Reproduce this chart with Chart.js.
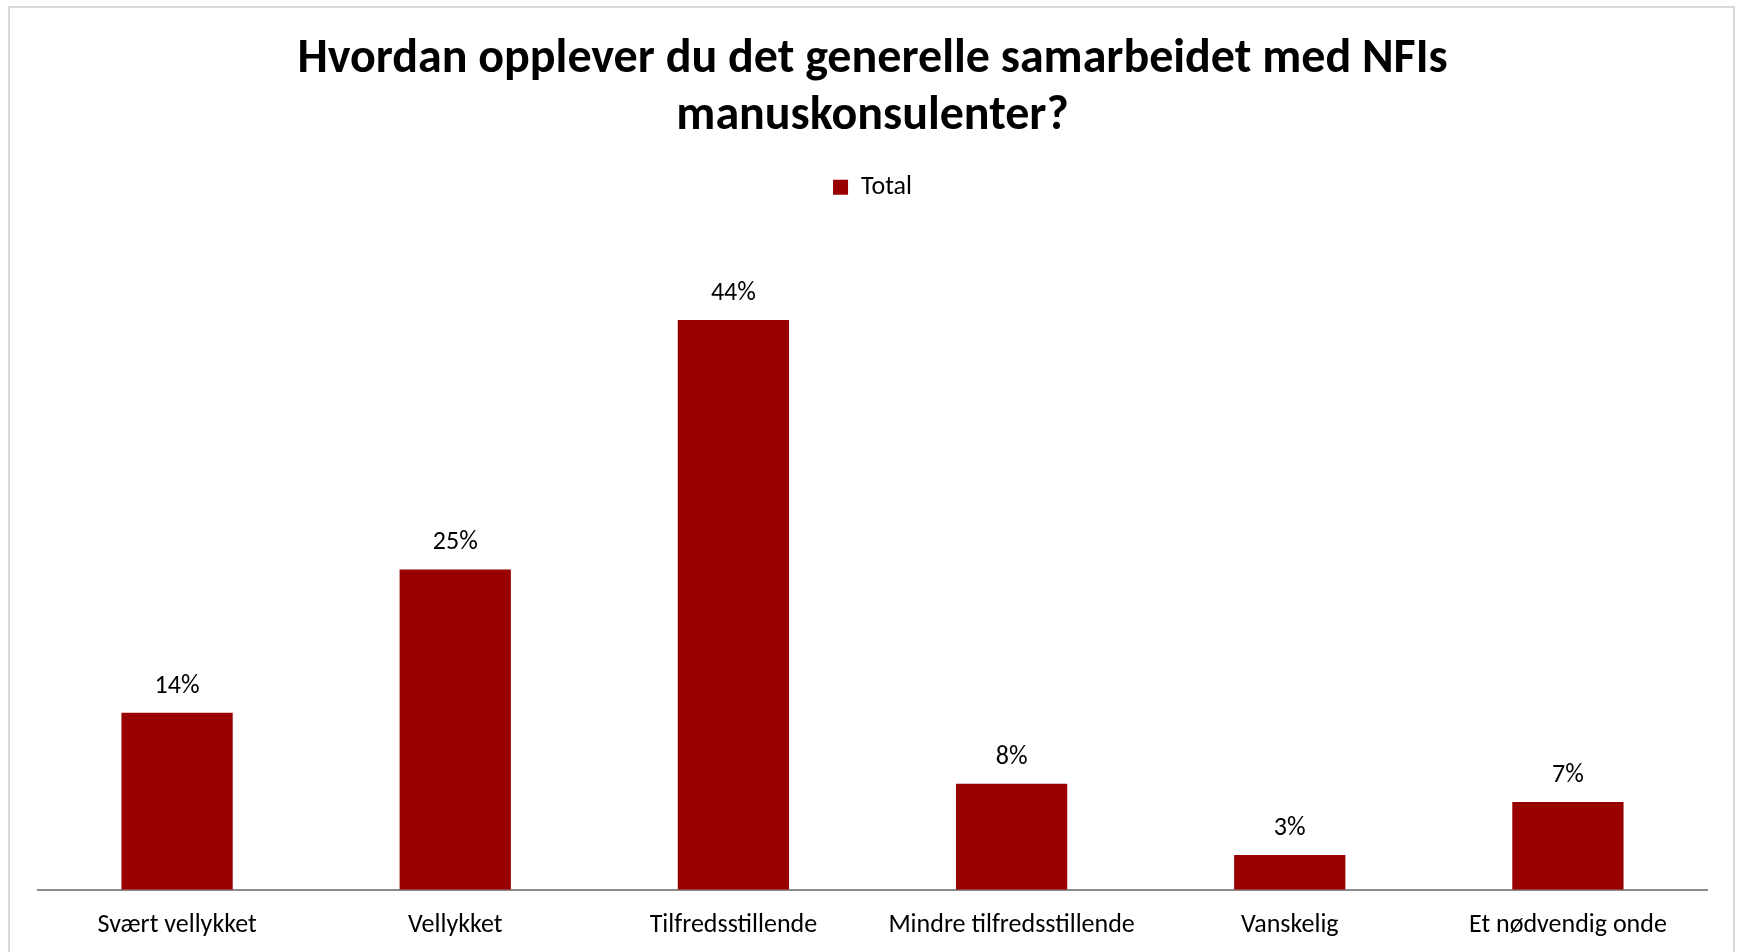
<!DOCTYPE html>
<html>
<head>
<meta charset="utf-8">
<title>NFI manuskonsulenter</title>
<script src="https://cdn.jsdelivr.net/npm/chart.js@4/dist/chart.umd.min.js"></script>
<style>
  html, body { margin: 0; padding: 0; background: #fff; overflow: hidden; }
  #wrap { position: relative; width: 1741px; height: 952px; }
  #frame { position: absolute; left: 8px; top: 6px; width: 1727px; height: 960px; border: 2px solid #d9d9d9; box-sizing: border-box; }
  #chart { position: absolute; left: 0; top: 0; }
</style>
</head>
<body>
<div id="wrap">
  <div id="frame"></div>
  <canvas id="chart" width="1741" height="952"></canvas>
</div>
<script>
// answers to "Hvordan opplever du det generelle samarbeidet med NFIs manuskonsulenter?"
const categories = ['Svært vellykket', 'Vellykket', 'Tilfredsstillende', 'Mindre tilfredsstillende', 'Vanskelig', 'Et nødvendig onde'];
const totalPct = [13.7, 24.8, 44.1, 8.2, 2.7, 6.8];
const seriesName = 'Total';
const titleLines = ['Hvordan opplever du det generelle samarbeidet med NFIs', 'manuskonsulenter?'];

const FONT = 'Carlito, Calibri, Lato, sans-serif';
const BAR = '#990000';
const AXIS = '#8c8c8c';

Chart.defaults.font.family = FONT;
Chart.defaults.color = '#000';

// value labels above each bar, rounded like the source ("14%")
const barLabels = {
  id: 'barLabels',
  afterDatasetsDraw(chart) {
    const { ctx } = chart;
    const meta = chart.getDatasetMeta(0);
    ctx.save();
    ctx.font = '26px ' + FONT;
    ctx.fillStyle = '#000';
    ctx.textAlign = 'center';
    ctx.textBaseline = 'alphabetic';
    meta.data.forEach((bar, i) => {
      const v = chart.data.datasets[0].data[i];
      ctx.fillText(Math.round(v) + '%', bar.x, bar.y - 20);
    });
    ctx.restore();
  },
};

new Chart(document.getElementById('chart'), {
  type: 'bar',
  data: {
    labels: categories,
    datasets: [{
      label: seriesName,
      data: totalPct,
      backgroundColor: BAR,
      borderWidth: 0,
      categoryPercentage: 1,
      barPercentage: 0.4,
    }],
  },
  options: {
    responsive: false,
    animation: false,
    layout: { padding: { left: 38, right: 34, top: 0, bottom: -9 } },
    plugins: {
      title: {
        display: true,
        text: titleLines,
        color: '#000',
        font: { size: 48, weight: 'bold', lineHeight: 1.18 },
        padding: { top: 32, bottom: -7 },
      },
      legend: {
        display: true,
        labels: {
          boxWidth: 15,
          boxHeight: 15,
          padding: 36,
          color: '#000',
          font: { size: 26 },
        },
      },
      tooltip: { enabled: false },
    },
    scales: {
      x: {
        grid: { display: false, drawTicks: false },
        border: { display: true, color: AXIS, width: 2 },
        ticks: { color: '#000', font: { size: 26 }, padding: 20, maxRotation: 0, autoSkip: false },
      },
      y: {
        display: false,
        min: 0,
        max: 52.6,
      },
    },
  },
  plugins: [barLabels],
});
</script>
</body>
</html>
